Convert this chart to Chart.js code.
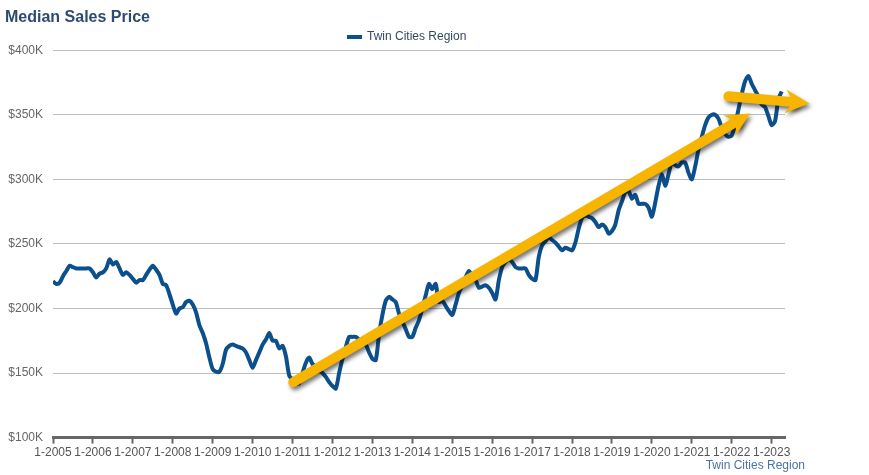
<!DOCTYPE html>
<html>
<head>
<meta charset="utf-8">
<script src="https://cdn.jsdelivr.net/npm/chart.js@4"></script>
<style>
  html, body { margin: 0; padding: 0; background: #fff; }
  #wrap { width: 869px; height: 475px; }
</style>
</head>
<body>
<div id="wrap"><canvas id="chart"></canvas></div>
<script>
const seriesName = 'Twin Cities Region';

// one tick per January, months counted from 1-2005
const yearTicks = ['1-2005', '1-2006', '1-2007', '1-2008', '1-2009', '1-2010', '1-2011',
  '1-2012', '1-2013', '1-2014', '1-2015', '1-2016', '1-2017', '1-2018', '1-2019',
  '1-2020', '1-2021', '1-2022', '1-2023'];

// median sales price, $K, monthly Jan 2005 - Apr 2023
const medianPrice = [
  221, 219, 220, 225, 229, 233, 232, 231, 231, 231, 231, 231, // 2005
  228, 224, 227, 228, 231, 238, 234, 236, 231, 226, 228, 226, // 2006
  223, 220, 222, 222, 226, 230, 233, 230, 226, 219, 218, 211, // 2007
  203, 196, 200, 201, 205, 206, 203, 197, 187, 181, 173, 162, // 2008
  153, 151, 151, 157, 168, 171, 172, 171, 170, 169, 166, 160, // 2009
  154, 160, 166, 172, 176, 181, 175, 175, 169, 171, 163, 148, // 2010
  145, 142, 142, 150, 158, 162, 157, 155, 152, 150, 147, 143, // 2011
  140, 138, 150, 161, 170, 178, 178, 178, 176, 174, 172, 166, // 2012
  161, 160, 180, 195, 206, 209, 207, 205, 196, 190, 184, 178, // 2013
  178, 185, 191, 200, 210, 219, 215, 219, 205, 206, 202, 198, // 2014
  195, 203, 212, 218, 224, 229, 225, 222, 216, 217, 218, 216, // 2015
  212, 207, 222, 232, 236, 238, 236, 232, 231, 231, 231, 226, // 2016
  223, 222, 240, 249, 252, 255, 253, 251, 248, 245, 247, 246, // 2017
  245, 251, 262, 270, 272, 271, 270, 267, 263, 265, 263, 258, // 2018
  260, 265, 276, 283, 290, 291, 285, 288, 281, 281, 281, 278, // 2019
  271, 282, 295, 304, 295, 304, 313, 311, 310, 313, 313, 305, // 2020
  300, 310, 323, 333, 342, 348, 350, 350, 347, 340, 335, 333, // 2021
  334, 342, 354, 366, 376, 380, 374, 369, 364, 358, 356, 349, // 2022
  342, 345, 362, 368                                          // 2023
];

// hand-drawn trend arrows, in [month index, $K]
const trendArrows = [
  { from: [72.2, 142.9], to: [209.5, 350.9] },
  { from: [203, 364.3], to: [227.3, 358.7] }
];

const lineColor = '#0b4f8c';
const font = 'Liberation Sans, Arial, sans-serif';

function arrowPath(ctx, x1, y1, x2, y2, fill) {
  const ang = Math.atan2(y2 - y1, x2 - x1);
  const dx = Math.cos(ang), dy = Math.sin(ang);
  const len = 24, half = 12, notch = 8;
  const nx = x2 - dx * (len - notch), ny = y2 - dy * (len - notch);

  ctx.lineWidth = 10;
  ctx.lineCap = 'round';
  ctx.strokeStyle = fill;
  ctx.beginPath();
  ctx.moveTo(x1, y1);
  ctx.lineTo(nx, ny);
  ctx.stroke();

  ctx.fillStyle = fill;
  ctx.beginPath();
  ctx.moveTo(x2, y2);
  ctx.lineTo(x2 - dx * len - dy * half, y2 - dy * len + dx * half);
  ctx.lineTo(nx, ny);
  ctx.lineTo(x2 - dx * len + dy * half, y2 - dy * len - dx * half);
  ctx.closePath();
  ctx.fill();
}

const extras = {
  id: 'extras',
  afterDraw(chart) {
    const ctx = chart.ctx;
    const xs = chart.scales.x, ys = chart.scales.y;

    const pts = trendArrows.map(a => [
      xs.getPixelForValue(a.from[0]), ys.getPixelForValue(a.from[1]),
      xs.getPixelForValue(a.to[0]), ys.getPixelForValue(a.to[1])
    ]);

    // shadow pass
    ctx.save();
    ctx.translate(2, 3);
    ctx.filter = 'blur(2px)';
    ctx.globalAlpha = 0.55;
    pts.forEach(p => arrowPath(ctx, p[0], p[1], p[2], p[3], '#000'));
    ctx.restore();

    ctx.save();
    pts.forEach(p => arrowPath(ctx, p[0], p[1], p[2], p[3], '#f7b500'));
    ctx.restore();

    // legend
    ctx.save();
    ctx.fillStyle = lineColor;
    ctx.fillRect(347, 35, 15, 4);
    ctx.fillStyle = '#334a63';
    ctx.font = '12px ' + font;
    ctx.textBaseline = 'middle';
    ctx.textAlign = 'left';
    ctx.fillText(seriesName, 367, 37);

    // caption under the axis
    ctx.fillStyle = '#4a74a5';
    ctx.textAlign = 'right';
    ctx.fillText(seriesName, 805, 466);
    ctx.restore();
  }
};

new Chart(document.getElementById('chart'), {
  type: 'line',
  data: {
    datasets: [{
      label: seriesName,
      data: medianPrice.map((v, i) => ({ x: i, y: v })),
      borderColor: lineColor,
      borderWidth: 4,
      pointRadius: 0,
      tension: 0.25,
      fill: false
    }]
  },
  options: {
    responsive: true,
    maintainAspectRatio: false,
    animation: false,
    layout: { padding: { left: 5, right: 84, top: 0, bottom: 13 } },
    plugins: {
      legend: { display: false },
      tooltip: { enabled: false },
      title: {
        display: true,
        text: 'Median Sales Price',
        align: 'start',
        color: '#2d4b6e',
        font: { family: font, size: 16, weight: 'bold' },
        padding: { top: 8, bottom: 23 }
      }
    },
    scales: {
      x: {
        type: 'linear',
        min: 0,
        max: 220,
        grid: { drawOnChartArea: false, tickLength: 6, tickColor: '#666', tickWidth: 2 },
        border: { color: '#666', width: 3 },
        ticks: {
          stepSize: 12,
          includeBounds: false,
          autoSkip: false,
          maxRotation: 0,
          padding: 2,
          color: '#555',
          font: { family: font, size: 12 },
          callback: v => yearTicks[v / 12]
        }
      },
      y: {
        min: 100,
        max: 400,
        afterFit: s => { s.width = 48; },
        grid: { color: '#bdbdbd', drawTicks: false },
        border: { display: false },
        ticks: {
          stepSize: 50,
          padding: 10,
          color: '#666',
          font: { family: font, size: 12 },
          callback: v => '$' + v + 'K'
        }
      }
    }
  },
  plugins: [extras]
});
</script>
</body>
</html>
